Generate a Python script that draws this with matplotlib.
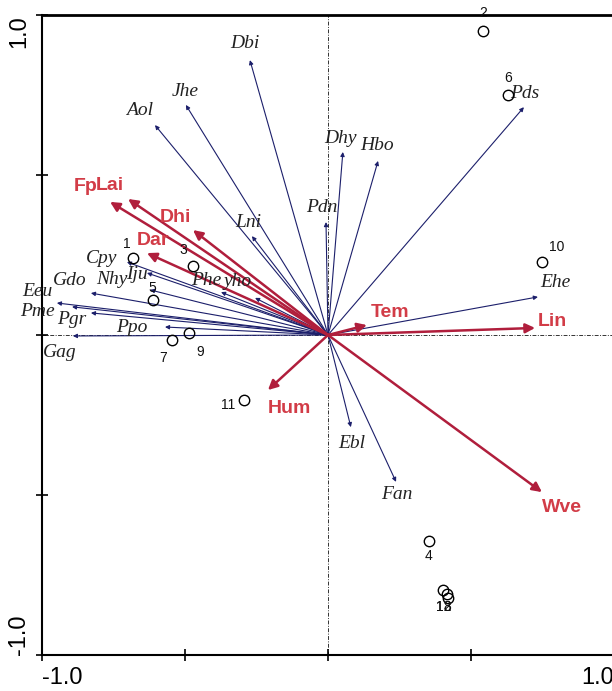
import matplotlib
matplotlib.use('Agg')
import matplotlib.pyplot as plt

# species scores (arrow tips)
species = ['Dbi', 'Jhe', 'Aol', 'Dhy', 'Hbo', 'Pds', 'Pdn', 'Lni', 'Cpy', 'Iju',
           'Nhy', 'Gdo', 'Eeu', 'Pme', 'Pgr', 'Ppo', 'Gag', 'Phe', 'yho', 'Ehe',
           'Ebl', 'Fan']
species_x = [-0.273, -0.497, -0.605, 0.052, 0.175, 0.685, -0.007, -0.266, -0.703, -0.633,
             -0.622, -0.829, -0.948, -0.895, -0.829, -0.570, -0.892, -0.374, -0.255, 0.734,
             0.080, 0.238]
species_y = [0.859, 0.719, 0.656, 0.572, 0.544, 0.712, 0.353, 0.309, 0.228, 0.194,
             0.141, 0.131, 0.100, 0.088, 0.069, 0.025, -0.003, 0.134, 0.116, 0.119,
             -0.288, -0.459]

# environmental variables
env = ['Fp', 'Lai', 'Dhi', 'Dar', 'Tem', 'Lin', 'Hum', 'Wve']
env_x = [-0.762, -0.699, -0.472, -0.633, 0.136, 0.724, -0.210, 0.748]
env_y = [0.416, 0.425, 0.328, 0.256, 0.031, 0.022, -0.172, -0.491]

# sample sites
sites = ['1', '2', '3', '4', '5', '6', '7', '8', '9', '10', '11', '12', '13']
site_x = [-0.682, 0.542, -0.472, 0.353, -0.612, 0.629, -0.545, 0.420, -0.486, 0.748,
          -0.294, 0.402, 0.416]
site_y = [0.241, 0.950, 0.216, -0.644, 0.109, 0.750, -0.016, -0.822, 0.006, 0.228,
          -0.203, -0.797, -0.809]

# label offsets in pixels (dx, dy)
sp_off = {'Dbi': (-5, 17), 'Jhe': (-1, 13), 'Aol': (-15, 15), 'Dhy': (-2, 13),
          'Hbo': (-1, 15), 'Pds': (1, 14), 'Pdn': (-4, 15), 'Lni': (-4, 14),
          'Cpy': (-25, 4), 'Iju': (-10, -2), 'Nhy': (-38, 10), 'Gdo': (-21, 13),
          'Eeu': (-20, 11), 'Pme': (-35, -5), 'Pgr': (-19, -7), 'Ppo': (-33, 0),
          'Gag': (-13, -17), 'Phe': (-15, 12), 'yho': (-17, 16), 'Ehe': (17, 14),
          'Ebl': (1, -16), 'Fan': (1, -13)}
env_off = {'Fp': (-24, 15), 'Lai': (-18, 14), 'Dhi': (-18, 13), 'Dar': (6, 13),
           'Tem': (23, 13), 'Lin': (17, 6), 'Hum': (21, -18), 'Wve': (20, -15)}
site_off = {'1': (-6, 14), '2': (0, 18), '3': (-10, 16), '4': (0, -15), '5': (-1, 12),
            '6': (0, 17), '7': (-9, -18), '8': (-1, -9), '9': (11, -19), '10': (15, 15),
            '11': (-16, -5), '12': (1, -17), '13': (-3, -13)}

sp_color = '#1c1f6b'
arrow_red = '#b01e3c'
label_red = '#d23c47'

fig = plt.figure(figsize=(6.12, 6.91), dpi=100)
ax = fig.add_axes([42 / 612, 36 / 691, 572 / 612, 640 / 691])
ax.set_xlim(-1, 1)
ax.set_ylim(-1, 1)

# zero lines
ax.axhline(0, color='#333333', lw=0.7, ls=(0, (4, 1.5, 1, 1.5)), zorder=1)
ax.axvline(0, color='#333333', lw=0.7, ls=(0, (4, 1.5, 1, 1.5)), zorder=1)

# species arrows
for name, x, y in zip(species, species_x, species_y):
    ax.annotate('', xy=(x, y), xytext=(0, 0),
                arrowprops=dict(arrowstyle='-|>', color=sp_color, lw=0.8,
                                shrinkA=0, shrinkB=0, mutation_scale=6), zorder=2)
    ax.annotate(name, xy=(x, y), xytext=sp_off[name], textcoords='offset pixels',
                ha='center', va='center', fontsize=14, style='italic',
                family='Liberation Serif', color='#222222', zorder=4)

# environmental arrows
for name, x, y in zip(env, env_x, env_y):
    ax.annotate('', xy=(x, y), xytext=(0, 0),
                arrowprops=dict(arrowstyle='-|>', color=arrow_red, lw=1.8,
                                shrinkA=0, shrinkB=0, mutation_scale=14), zorder=3)
    ax.annotate(name, xy=(x, y), xytext=env_off[name], textcoords='offset pixels',
                ha='center', va='center', fontsize=14, fontweight='bold',
                family='Liberation Sans', color=label_red, zorder=4)

# sites
ax.plot(site_x, site_y, 'o', mfc='none', mec='black', mew=1.0, ms=7.5, zorder=5)
for name, x, y in zip(sites, site_x, site_y):
    ax.annotate(name, xy=(x, y), xytext=site_off[name], textcoords='offset pixels',
                ha='center', va='center', fontsize=10, family='Liberation Sans',
                color='#111111', zorder=5)

# axes styling
ax.spines['right'].set_visible(False)
ax.spines['top'].set_linewidth(2)
ax.spines['left'].set_linewidth(1.5)
ax.spines['bottom'].set_linewidth(1.5)

ax.set_xticks([-1, -0.5, 0, 0.5, 1])
ax.set_xticklabels(['-1.0', '', '', '', '1.0'])
ax.set_yticks([-1, -0.5, 0, 0.5, 1])
ax.set_yticklabels(['-1.0', '', '', '', '1.0'])
ax.tick_params(direction='inout', length=9, width=1.2, labelsize=17, pad=4)
for lab in ax.get_xticklabels():
    lab.set_family('Liberation Sans')
xl = ax.get_xticklabels()
xl[0].set_ha('left')
xl[-1].set_ha('right')
for lab in ax.get_yticklabels():
    lab.set_family('Liberation Sans')
    lab.set_rotation(90)
yl = ax.get_yticklabels()
yl[0].set_va('bottom')
yl[-1].set_va('top')

fig.savefig('out.png', dpi=100)
